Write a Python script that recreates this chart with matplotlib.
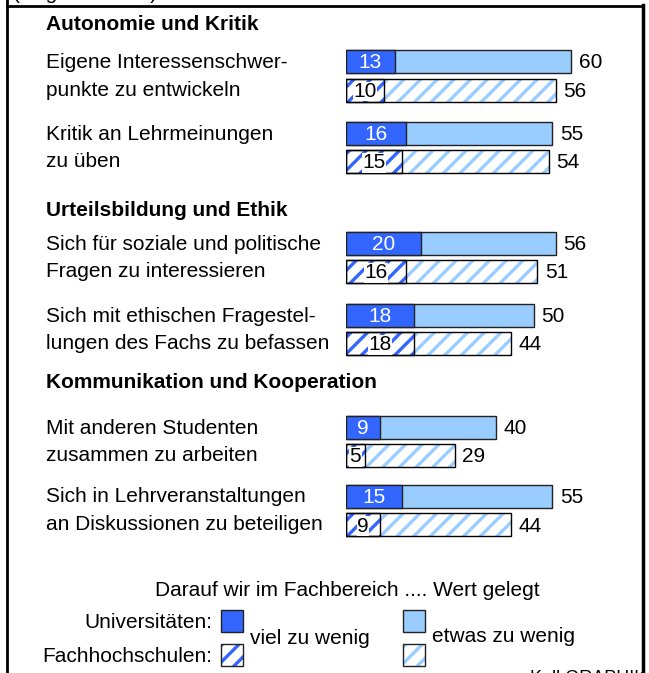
import matplotlib
matplotlib.use('Agg')
import matplotlib.pyplot as plt
from matplotlib.patches import Rectangle

plt.rcParams['font.family'] = ['Liberation Sans', 'DejaVu Sans']
plt.rcParams['hatch.linewidth'] = 2.4

# Daten (Angaben in %)
gruppen = ["Autonomie und Kritik", "Urteilsbildung und Ethik", "Kommunikation und Kooperation"]
items = [
    ["Eigene Interessenschwer-", "punkte zu entwickeln"],
    ["Kritik an Lehrmeinungen", "zu üben"],
    ["Sich für soziale und politische", "Fragen zu interessieren"],
    ["Sich mit ethischen Fragestel-", "lungen des Fachs zu befassen"],
    ["Mit anderen Studenten", "zusammen zu arbeiten"],
    ["Sich in Lehrveranstaltungen", "an Diskussionen zu beteiligen"],
]
uni_viel = [13, 16, 20, 18, 9, 15]
uni_gesamt = [60, 55, 56, 50, 40, 55]
fh_viel = [10, 15, 16, 18, 5, 9]
fh_gesamt = [56, 54, 51, 44, 29, 44]

DUNKEL = '#3366FF'
HELL = '#99CCFF'
W, H = 649, 673
FS = 15

# Layout (Pixel)
gruppe_y = [25, 210, 382]
paar_y = [61.5, 133, 243, 315, 427, 496]
fh_dy = 28.5
bar_h = 23
bar_x0 = 346
px_pro_prozent = 3.75
dz = 1.5  # Ziffern optisch zentrieren

fig = plt.figure(figsize=(W / 100, H / 100), dpi=100)
ax = fig.add_axes([0, 0, 1, 1])
ax.set_xlim(0, W)
ax.set_ylim(H, 0)
ax.axis('off')

bx = fig.add_axes([bar_x0 / W, 0, (W - bar_x0) / W, 1])
bx.set_xlim(0, (W - bar_x0) / px_pro_prozent)
bx.set_ylim(H, 0)
bx.axis('off')

# Rahmen
ax.plot([7, 7], [0, H], color='black', lw=2)
ax.plot([7, 643], [6, 6], color='black', lw=2)
ax.plot([643, 643], [5, H], color='black', lw=2.5)
ax.text(13, -1, "(Angaben in %)", fontsize=FS, va='baseline', ha='left')
ax.text(530, 683, "Kall GRAPHIK", fontsize=13, va='baseline', ha='left')

for g, y in zip(gruppen, gruppe_y):
    ax.text(46, y, g, fontsize=FS, fontweight='bold', va='center', ha='left')

for i, (zeilen, y) in enumerate(zip(items, paar_y)):
    ax.text(46, y + 1, zeilen[0], fontsize=FS, va='center', ha='left')
    ax.text(46, y + fh_dy, zeilen[1], fontsize=FS, va='center', ha='left')

    # Universitäten
    bx.barh(y, uni_gesamt[i], height=bar_h, color=HELL, edgecolor='#222222', lw=1)
    bx.barh(y, uni_viel[i], height=bar_h, color=DUNKEL, edgecolor='#222222', lw=1)
    bx.text(uni_viel[i] / 2, y + dz, str(uni_viel[i]), color='white', fontsize=FS,
            ha='center', va='center')
    bx.text(uni_gesamt[i] + 2, y + dz, str(uni_gesamt[i]), fontsize=FS, ha='left', va='center')

    # Fachhochschulen
    yf = y + fh_dy
    bx.barh(yf, fh_gesamt[i], height=bar_h, color='white', edgecolor=HELL, lw=0, hatch='//')
    bx.barh(yf, fh_viel[i], height=bar_h, color='white', edgecolor=DUNKEL, lw=0, hatch='//')
    bx.barh(yf, fh_gesamt[i], height=bar_h, color='none', edgecolor='black', lw=1)
    bx.barh(yf, fh_viel[i], height=bar_h, color='none', edgecolor='black', lw=1)
    bx.text(fh_viel[i] / 2, yf + dz, str(fh_viel[i]), color='black', fontsize=FS,
            ha='center', va='center',
            bbox=dict(boxstyle='square,pad=0.02', fc='white', ec='none'))
    bx.text(fh_gesamt[i] + 2, yf + dz, str(fh_gesamt[i]), fontsize=FS, ha='left', va='center')

# Legende
ax.text(347, 591, "Darauf wir im Fachbereich .... Wert gelegt", fontsize=FS,
        ha='center', va='center')
ax.text(212, 623, "Universitäten:", fontsize=FS, ha='right', va='center')
ax.text(212, 657, "Fachhochschulen:", fontsize=FS, ha='right', va='center')
ax.text(250, 638, "viel zu wenig", fontsize=FS, ha='left', va='center')
ax.text(432, 637, "etwas zu wenig", fontsize=FS, ha='left', va='center')

for x0, farbe in [(221, DUNKEL), (403, HELL)]:
    ax.add_patch(Rectangle((x0, 610), 22, 22, fc=farbe, ec='#222222', lw=1))
    ax.add_patch(Rectangle((x0, 644), 22, 22, fc='white', ec=farbe, lw=0, hatch='//'))
    ax.add_patch(Rectangle((x0, 644), 22, 22, fc='none', ec='#222222', lw=1))

fig.savefig('out.png', dpi=100)
